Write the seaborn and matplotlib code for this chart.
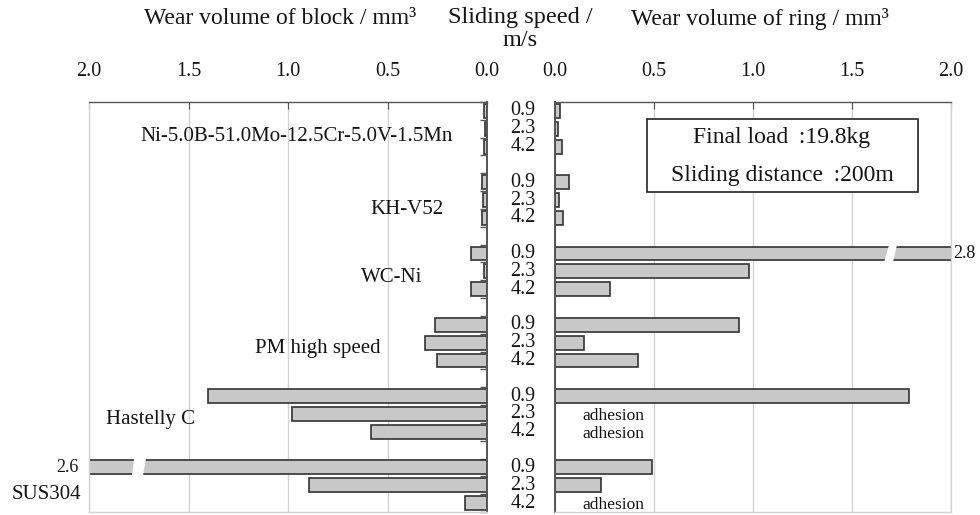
import numpy as np
import pandas as pd
import matplotlib
matplotlib.use("Agg")
import matplotlib.pyplot as plt
from matplotlib.patches import Polygon, Rectangle
from matplotlib.transforms import blended_transform_factory
import seaborn as sns

# ---------------- data ----------------
groups = ["Ni-5.0B-51.0Mo-12.5Cr-5.0V-1.5Mn", "KH-V52", "WC-Ni",
          "PM high speed", "Hastelly C", "SUS304"]
speeds = ["0.9", "2.3", "4.2"]
block_ni = [0.013, 0.010, 0.017]
block_kh = [0.025, 0.018, 0.025]
block_wc = [0.080, 0.015, 0.080]
block_pm = [0.26, 0.31, 0.25]
block_ha = [1.40, 0.98, 0.585]
block_sus = [2.6, 0.895, 0.11]
ring_ni = [0.024, 0.017, 0.034]
ring_kh = [0.070, 0.022, 0.040]
ring_wc = [2.8, 0.98, 0.28]
ring_pm = [0.93, 0.146, 0.42]
ring_ha = [1.79, np.nan, np.nan]   # nan = adhesion
ring_sus = [0.49, 0.23, np.nan]
xticks = [0.0, 0.5, 1.0, 1.5, 2.0]
final_load = "Final load \u2009:19.8kg"
sliding_dist = "Sliding distance \u2009:200m"

block_all = [block_ni, block_kh, block_wc, block_pm, block_ha, block_sus]
ring_all = [ring_ni, ring_kh, ring_wc, ring_pm, ring_ha, ring_sus]

rows = []
for g, (gname, bl, rl) in enumerate(zip(groups, block_all, ring_all)):
    for s, sp in enumerate(speeds):
        rows.append(dict(group=gname, speed=sp, pos=4 * g + s,
                         block=bl[s], ring=rl[s]))
df = pd.DataFrame(rows)

# ---------------- style ----------------
sns.set_style("white")
plt.rcParams["font.family"] = ["Liberation Serif", "DejaVu Serif"]
TXT = "#141414"
BAR = "#c8c8c8"
EDGE = "#333333"
GRID = "#d2d2d2"
SPINE = "#555555"

W, H = 980, 515
fig = plt.figure(figsize=(W / 100, H / 100), dpi=100)
top_px, bot_px = 102, 512
axL = fig.add_axes([89 / W, 1 - bot_px / H, 398 / W, (bot_px - top_px) / H])
axR = fig.add_axes([555 / W, 1 - bot_px / H, 396 / W, (bot_px - top_px) / H])

nrows = 23
for ax, col in ((axL, "block"), (axR, "ring")):
    d = df.dropna(subset=[col])
    sns.barplot(data=d, x=col, y="pos", orient="h", native_scale=True,
                errorbar=None, color=BAR, edgecolor=EDGE, linewidth=1.2,
                width=0.78, saturation=1, ax=ax, zorder=2)
    ax.set_ylim(nrows - 0.5, -0.5)
    ax.set_xlabel("")
    ax.set_ylabel("")
    ax.set_yticks([])
    ax.set_yticks(np.arange(-0.5, nrows, 1.0), minor=True)
    ax.set_xticks(xticks)
    ax.set_xticklabels([f"{t:.1f}" for t in xticks])
    ax.xaxis.tick_top()
    ax.tick_params(axis="x", which="major", direction="in", length=5,
                   color=SPINE, pad=15, labelsize=14.5, labelcolor=TXT)
    ax.tick_params(axis="y", which="minor", direction="in", length=5,
                   color=SPINE, width=1)
    ax.grid(axis="x", color=GRID, lw=1, zorder=0)
    ax.set_axisbelow(True)
    for sp in ax.spines.values():
        sp.set_color(GRID)
        sp.set_linewidth(1)
    ax.spines["top"].set_color(SPINE)

axL.set_xlim(2.0, 0.0)
axR.set_xlim(0.0, 2.0)
axL.yaxis.tick_right()
axL.tick_params(axis="y", which="minor", right=True, left=False)
axL.spines["right"].set_color(SPINE)
axL.spines["right"].set_linewidth(1.4)
axR.spines["left"].set_color(SPINE)
axR.spines["left"].set_linewidth(1.4)

# ---------------- break marks for off-scale bars ----------------
def slash(ax, x_bl, x_br, x_tl, x_tr, y):
    poly = Polygon([(x_bl, y + 0.48), (x_br, y + 0.48),
                    (x_tr, y - 0.48), (x_tl, y - 0.48)],
                   closed=True, facecolor="white", edgecolor="none", zorder=5)
    ax.add_patch(poly)

pos_wc09 = int(df.loc[(df.group == "WC-Ni") & (df.speed == "0.9"), "pos"].iloc[0])
pos_sus09 = int(df.loc[(df.group == "SUS304") & (df.speed == "0.9"), "pos"].iloc[0])
slash(axR, 1.662, 1.707, 1.687, 1.727, pos_wc09)
slash(axL, 1.784, 1.729, 1.774, 1.714, pos_sus09)
axR.text(2.01, pos_wc09, f"{ring_wc[0]:.1f}", ha="left", va="center",
         fontsize=13, color=TXT, clip_on=False)
axL.text(2.05, pos_sus09, f"{block_sus[0]:.1f}", ha="right", va="center",
         fontsize=13, color=TXT, clip_on=False)

# ---------------- adhesion labels ----------------
for _, r in df[df.ring.isna()].iterrows():
    axR.text(0.14, r.pos + 0.1, "adhesion", ha="left", va="center",
             fontsize=12.5, color=TXT)

# ---------------- speed labels (between the two panels) ----------------
tr = blended_transform_factory(fig.transFigure, axL.transData)
for _, r in df.iterrows():
    fig.text(523 / W, r.pos, r.speed, transform=tr, ha="center",
             va="center", fontsize=14.5, color=TXT)

# ---------------- group labels ----------------
group_xy = [(0.955, 1.46), (0.402, 5.55), (0.477, 9.36),
            (0.849, 13.3), (1.693, 17.3), (2.216, 21.5)]
for name, (x, y) in zip(groups, group_xy):
    axL.text(x, y, name, ha="center", va="center", fontsize=15,
             color=TXT, clip_on=False)

# ---------------- headers ----------------
fig.text(280 / W, 1 - 19 / H, "Wear volume of block / mm\u00b3", ha="center",
         va="center", fontsize=17, color=TXT)
fig.text(520 / W, 1 - 17 / H, "Sliding speed /", ha="center",
         va="center", fontsize=17.5, color=TXT)
fig.text(520 / W, 1 - 40 / H, "m/s", ha="center",
         va="center", fontsize=17.5, color=TXT)
fig.text(760 / W, 1 - 19 / H, "Wear volume of ring / mm\u00b3", ha="center",
         va="center", fontsize=17, color=TXT)

# ---------------- condition box ----------------
fig.patches.append(Rectangle((647 / W, 1 - 192 / H), 271 / W, 73 / H,
                             transform=fig.transFigure, facecolor="white",
                             edgecolor="#222222", lw=1.2, zorder=6))
fig.text(782 / W, 1 - 137 / H, final_load, ha="center", va="center",
         fontsize=17, color=TXT, zorder=7)
fig.text(782 / W, 1 - 175 / H, sliding_dist, ha="center", va="center",
         fontsize=17, color=TXT, zorder=7)

fig.savefig("out.png", dpi=100)
